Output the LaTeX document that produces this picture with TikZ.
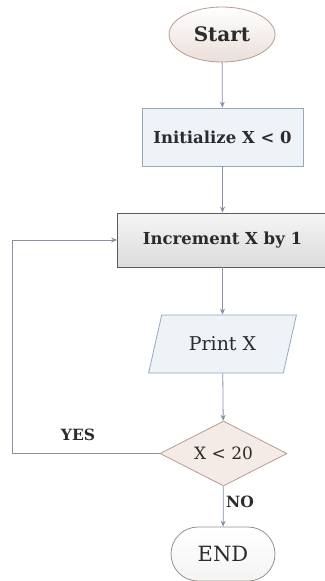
\documentclass[tikz,border=0pt]{standalone}
\usepackage{fontspec}
\setmainfont{DejaVu Serif}
\usetikzlibrary{shapes.geometric,shapes.misc,arrows.meta}
\definecolor{linec}{HTML}{8691A8}
\definecolor{pinkfill}{HTML}{F4EBE6}
\definecolor{pinkedge}{HTML}{B89B90}
\definecolor{bluefill}{HTML}{EEF3F8}
\definecolor{blueedge}{HTML}{98A8BC}
\definecolor{grayedge}{HTML}{5A5A5A}
\definecolor{endedge}{HTML}{9C908A}
\definecolor{txt}{HTML}{2B2B2B}
\tikzset{
  base/.style={text=txt, inner sep=0pt, line width=0.8pt},
  startbox/.style={base, ellipse, draw=pinkedge, top color=white, bottom color=pinkfill!80!pinkedge!90,
    minimum width=106pt, minimum height=55pt, font=\bfseries\fontsize{20}{24}\selectfont},
  procbox/.style={base, rectangle, draw=blueedge, fill=bluefill,
    minimum width=161pt, minimum height=58pt, font=\bfseries\fontsize{16.5}{20}\selectfont},
  incbox/.style={base, rectangle, draw=grayedge, top color=white!96!black, bottom color=white!86!black,
    minimum width=210pt, minimum height=54pt, font=\bfseries\fontsize{16.5}{20}\selectfont},
  iobox/.style={base, trapezium, trapezium stretches=true,
    trapezium left angle=63, trapezium right angle=117,
    draw=blueedge, fill=bluefill, minimum width=148pt, minimum height=58pt,
    font=\fontsize{19}{23}\selectfont},
  decbox/.style={base, diamond, aspect=1.95, draw=pinkedge, fill=pinkfill,
    minimum width=127pt, minimum height=65pt, font=\fontsize{17}{20}\selectfont},
  endbox/.style={base, rounded rectangle, draw=endedge, top color=white, bottom color=white!90!endedge,
    minimum width=104pt, minimum height=54pt, font=\fontsize{21}{25}\selectfont},
  flow/.style={draw=linec, line width=0.8pt, -{Stealth[length=6pt,width=5pt]}},
  lbl/.style={text=txt, font=\bfseries\fontsize{15.5}{18}\selectfont},
}
\begin{document}
\begin{tikzpicture}[x=1pt,y=-1pt]
  \useasboundingbox (0,0) rectangle (324,581);
  \fill[white] (0,0) rectangle (324,581);

  \node[startbox] (start) at (222,34.5) {Start};
  \node[procbox]  (init)  at (222.5,137) {Initialize X < 0};
  \node[incbox]   (inc)   at (222.5,240) {Increment X by 1};
  \node[iobox]    (print) at (222.5,344) {Print X};
  \node[decbox]   (dec)   at (223.5,453.5) {X < 20};
  \node[endbox]   (end)   at (223,554) {END};
  \coordinate (loop) at (12,453.5);

  \draw[flow] (start) -- (init);
  \draw[flow] (init) -- (inc);
  \draw[flow] (inc) -- (print);
  \draw[flow] (print) -- (dec);
  \draw[flow] (dec) -- (end);
  \draw[flow] (dec.west) -- (loop) |- (inc.west);

  \node[lbl] (yes) at (78,435) {YES};
  \node[lbl] (no)  at (240,502) {NO};
\end{tikzpicture}
\end{document}
